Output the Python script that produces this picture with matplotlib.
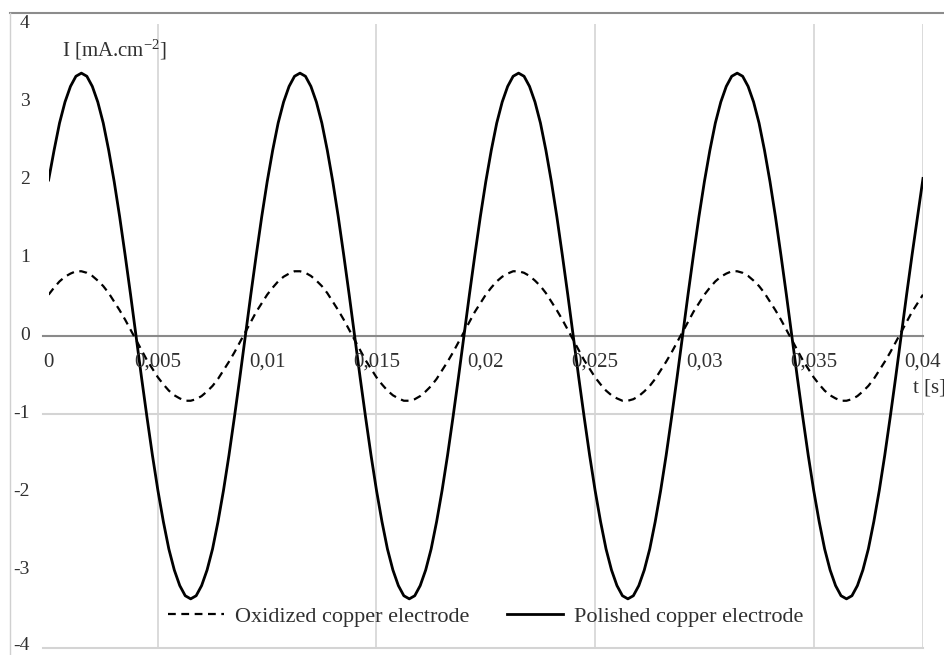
import matplotlib
matplotlib.use('Agg')
import matplotlib.pyplot as plt
from matplotlib.lines import Line2D

# Fonts (Times-like look of the original)
plt.rcParams['font.family'] = ['Liberation Serif', 'DejaVu Serif']
plt.rcParams['mathtext.fontset'] = 'custom'
plt.rcParams['mathtext.rm'] = 'Liberation Serif'
plt.rcParams['mathtext.it'] = 'Liberation Serif:italic'

'''
Data read from the picture, one sample every 0.25 ms
'''
t = [round(0.00025 * i, 5) for i in range(161)]

polished = [
    2.00, 2.38, 2.73, 3.00, 3.20, 3.33, 3.37, 3.33, 3.20, 3.00,
    2.73, 2.38, 1.98, 1.53, 1.04, 0.53, 0.00, -0.53, -1.04, -1.53,
    -1.98, -2.38, -2.73, -3.00, -3.20, -3.33, -3.37, -3.33, -3.20, -3.00,
    -2.73, -2.38, -1.98, -1.53, -1.04, -0.53, 0.00, 0.53, 1.04, 1.53,
    1.98, 2.38, 2.73, 3.00, 3.20, 3.33, 3.37, 3.33, 3.20, 3.00,
    2.73, 2.38, 1.98, 1.53, 1.04, 0.53, 0.00, -0.53, -1.04, -1.53,
    -1.98, -2.38, -2.73, -3.00, -3.20, -3.33, -3.37, -3.33, -3.20, -3.00,
    -2.73, -2.38, -1.98, -1.53, -1.04, -0.53, 0.00, 0.53, 1.04, 1.53,
    1.98, 2.38, 2.73, 3.00, 3.20, 3.33, 3.37, 3.33, 3.20, 3.00,
    2.73, 2.38, 1.98, 1.53, 1.04, 0.53, 0.00, -0.53, -1.04, -1.53,
    -1.98, -2.38, -2.73, -3.00, -3.20, -3.33, -3.37, -3.33, -3.20, -3.00,
    -2.73, -2.38, -1.98, -1.53, -1.04, -0.53, 0.00, 0.53, 1.04, 1.53,
    1.98, 2.38, 2.73, 3.00, 3.20, 3.33, 3.37, 3.33, 3.20, 3.00,
    2.73, 2.38, 1.98, 1.53, 1.04, 0.53, 0.00, -0.53, -1.04, -1.53,
    -1.98, -2.38, -2.73, -3.00, -3.20, -3.33, -3.37, -3.33, -3.20, -3.00,
    -2.73, -2.38, -1.98, -1.53, -1.04, -0.53, 0.00, 0.53, 1.04, 1.53,
    2.02]

oxidized = [
    0.53, 0.62, 0.70, 0.76, 0.80, 0.83, 0.83, 0.81, 0.77, 0.71,
    0.64, 0.55, 0.44, 0.33, 0.21, 0.08, -0.05, -0.18, -0.31, -0.42,
    -0.53, -0.62, -0.70, -0.76, -0.80, -0.83, -0.83, -0.81, -0.77, -0.71,
    -0.64, -0.55, -0.44, -0.33, -0.21, -0.08, 0.05, 0.18, 0.31, 0.42,
    0.53, 0.62, 0.70, 0.76, 0.80, 0.83, 0.83, 0.81, 0.77, 0.71,
    0.64, 0.55, 0.44, 0.33, 0.21, 0.08, -0.05, -0.18, -0.31, -0.42,
    -0.53, -0.62, -0.70, -0.76, -0.80, -0.83, -0.83, -0.81, -0.77, -0.71,
    -0.64, -0.55, -0.44, -0.33, -0.21, -0.08, 0.05, 0.18, 0.31, 0.42,
    0.53, 0.62, 0.70, 0.76, 0.80, 0.83, 0.83, 0.81, 0.77, 0.71,
    0.64, 0.55, 0.44, 0.33, 0.21, 0.08, -0.05, -0.18, -0.31, -0.42,
    -0.53, -0.62, -0.70, -0.76, -0.80, -0.83, -0.83, -0.81, -0.77, -0.71,
    -0.64, -0.55, -0.44, -0.33, -0.21, -0.08, 0.05, 0.18, 0.31, 0.42,
    0.53, 0.62, 0.70, 0.76, 0.80, 0.83, 0.83, 0.81, 0.77, 0.71,
    0.64, 0.55, 0.44, 0.33, 0.21, 0.08, -0.05, -0.18, -0.31, -0.42,
    -0.53, -0.62, -0.70, -0.76, -0.80, -0.83, -0.83, -0.81, -0.77, -0.71,
    -0.64, -0.55, -0.44, -0.33, -0.21, -0.08, 0.05, 0.18, 0.31, 0.42,
    0.53]

x_ticks = [0, 0.005, 0.01, 0.015, 0.02, 0.025, 0.03, 0.035, 0.04]
x_tick_labels = ['0', '0,005', '0,01', '0,015', '0,02', '0,025', '0,03',
                 '0,035', '0,04']
y_ticks = [4, 3, 2, 1, 0, -1, -2, -3, -4]
y_tick_labels = ['4', '3', '2', '1', '0', '-1', '-2', '-3', '-4']

v_grid = [0.005, 0.015, 0.025, 0.035, 0.04]
h_grid = [-4, -1]

FS = 15
TXT = '#303030'

fig = plt.figure(figsize=(9.45, 6.55), dpi=100)
ax = fig.add_axes([48.6 / 945, 1 - 648 / 655, (923 - 48.6) / 945, 624 / 655])
ax.set_xlim(0, 0.04)
ax.set_ylim(-4, 4)
ax.set_xticks([])
ax.set_yticks([])
for s in ax.spines.values():
    s.set_visible(False)

# Gridlines and the zero axis
for xv in v_grid:
    ax.axvline(xv, color='#d4d4d4', lw=1.2, zorder=1)
for yv in h_grid:
    ax.axhline(yv, xmin=-0.006, xmax=1, color='#d4d4d4', lw=1.5,
               clip_on=False, zorder=1)
ax.axhline(0, xmin=-0.006, xmax=1, color='#8a8a8a', lw=1.5,
           clip_on=False, zorder=1)

# Curves
ax.plot(t, oxidized, color='black', lw=1.6, dashes=(3.5, 2.5),
        label='Oxidized copper electrode', zorder=3)
ax.plot(t, polished, color='black', lw=2.0,
        label='Polished copper electrode', zorder=3)

# Y tick labels, right aligned left of the plot area
for yv, lab in zip(y_ticks, y_tick_labels):
    dy = 2 if yv == -4 else 0
    ax.annotate(lab, (0, yv), xytext=(-13.5, dy), textcoords='offset points',
                ha='right', va='center', fontsize=14, color=TXT)

# X tick labels sit under the zero line
for xv, lab in zip(x_ticks, x_tick_labels):
    ax.annotate(lab, (xv, 0), xytext=(0, -19), textcoords='offset points',
                ha='center', va='center', fontsize=FS, color=TXT)

# Axis titles
ax.text(0.0006, 3.67, 'I [mA.cm$^{-2}$]', fontsize=FS, color=TXT,
        ha='left', va='center')
fig.text(913 / 945, 1 - 388 / 655, 't [s]', fontsize=FS, color=TXT,
         ha='left', va='center')

# Legend
ax.legend(loc='center', bbox_to_anchor=(0.5, 31 / 624), ncol=2,
          frameon=False, fontsize=16, handlelength=2.5, handletextpad=0.5,
          columnspacing=1.7, labelcolor=TXT)

# Outer chart border (partly cropped in the original)
fig.add_artist(Line2D([10 / 945, 1], [1 - 13 / 655, 1 - 13 / 655],
                      color='#8c8c8c', lw=1.5))
fig.add_artist(Line2D([10 / 945, 10 / 945], [1 - 13 / 655, 0],
                      color='#d0d0d0', lw=1.0))

plt.savefig('out.png', dpi=100)
